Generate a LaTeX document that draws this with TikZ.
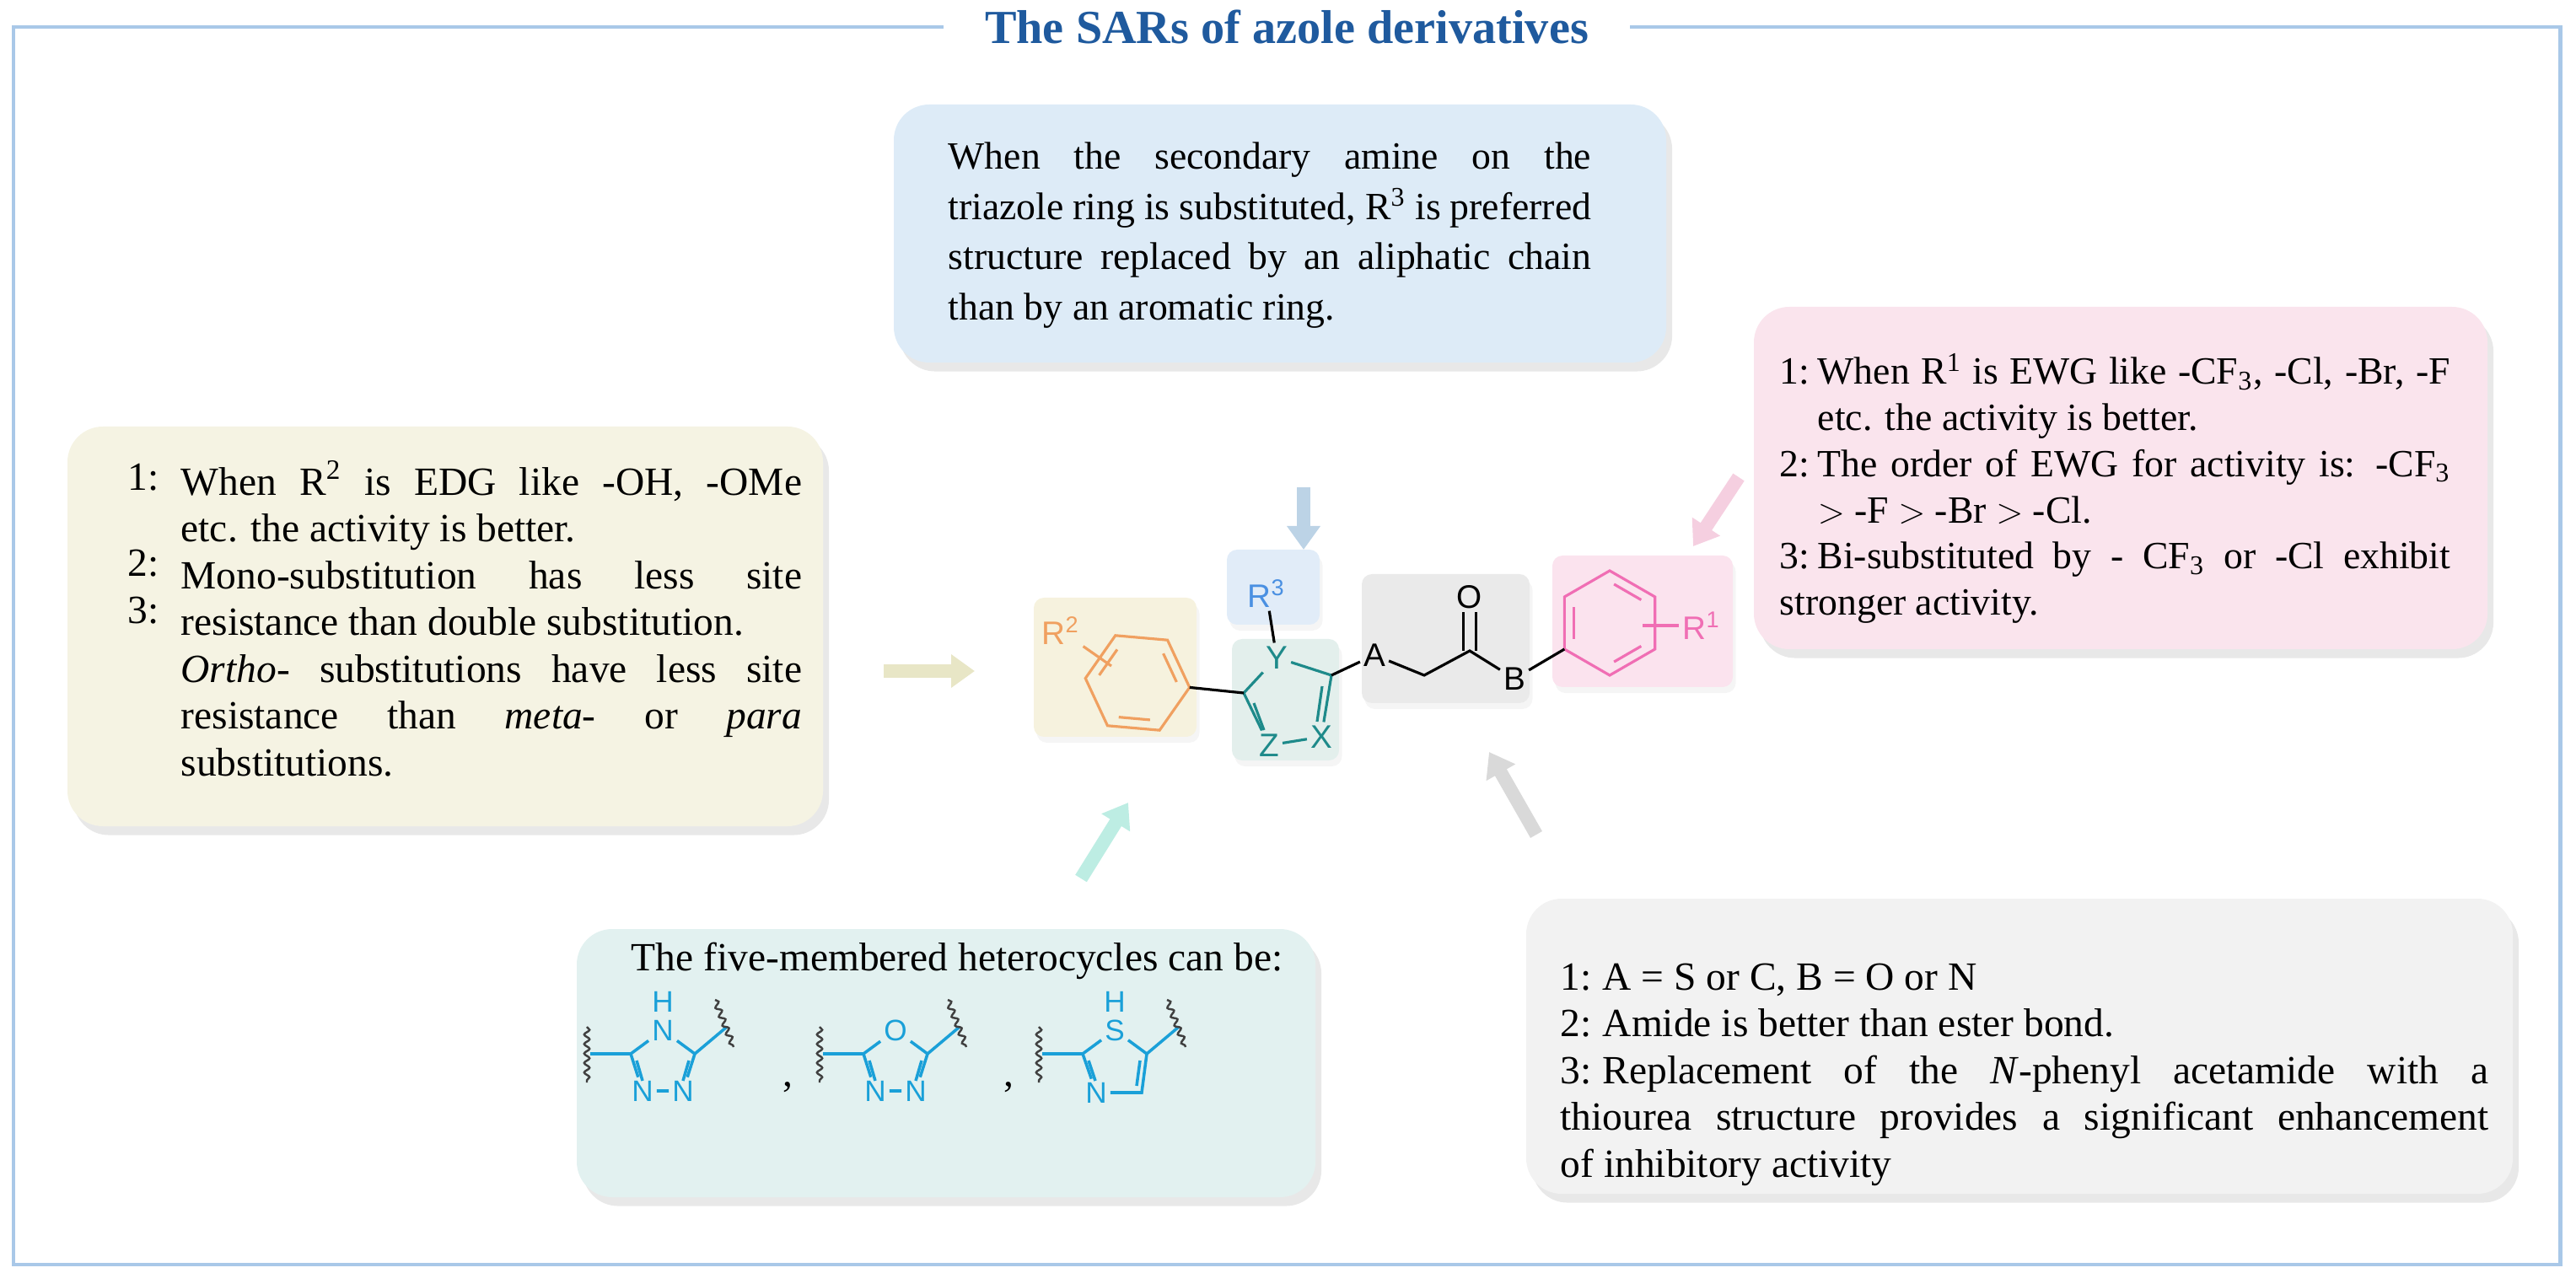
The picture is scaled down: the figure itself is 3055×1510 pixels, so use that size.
\documentclass[tikz,border=0pt]{standalone}
\usepackage{fontspec}
\setmainfont{Liberation Serif}
\newfontfamily\chemf{Liberation Sans}
\usetikzlibrary{arrows.meta,shadows,decorations.pathmorphing,calc}
\definecolor{frameB}{HTML}{A9C8E8}
\definecolor{titleB}{HTML}{1F5A9E}
\definecolor{bxBlue}{HTML}{DDEBF7}
\definecolor{bxYel}{HTML}{F5F3E3}
\definecolor{bxPink}{HTML}{FAE4ED}
\definecolor{bxTeal}{HTML}{E2F1F0}
\definecolor{bxGrey}{HTML}{F2F2F2}
\definecolor{arBlue}{HTML}{BCD3E6}
\definecolor{arYel}{HTML}{E8E6C6}
\definecolor{arPink}{HTML}{F5CFE0}
\definecolor{arTeal}{HTML}{BDEDE3}
\definecolor{arGrey}{HTML}{D9D9D9}
\definecolor{mOr}{HTML}{F0A060}
\definecolor{mBl}{HTML}{4A90E2}
\definecolor{mTe}{HTML}{1E8A8A}
\definecolor{mPk}{HTML}{F06EB4}
\definecolor{mHet}{HTML}{1AA0D8}
\definecolor{sbOr}{HTML}{F6F2DE}
\definecolor{sbBl}{HTML}{E1ECF8}
\definecolor{sbTe}{HTML}{E3EFEC}
\definecolor{sbGr}{HTML}{EAEAEA}
\definecolor{sbPk}{HTML}{FBE3EE}
\newlength\hng
\newcommand{\itm}[2]{\par\noindent\hangindent=\hng\hangafter=1\makebox[\hng][l]{#1:}#2}
\newcommand{\nohy}{\hyphenpenalty=10000\relax\exhyphenpenalty=10000\relax}
\tikzset{
  bigbox/.style={rounded corners=0.42cm, drop shadow={opacity=0.18,shadow xshift=2pt,shadow yshift=-3pt}},
  smallbox/.style={rounded corners=0.12cm, drop shadow={opacity=0.08,shadow xshift=1pt,shadow yshift=-2pt}},
  blockarr/.style={line width=0.16cm,-{Triangle[width=0.38cm,length=0.28cm]}},
  txt/.style={inner sep=0pt, align=justify, font=\fontsize{13.5}{15.8}\selectfont},
  atm/.style={inner sep=1pt, font=\chemf\fontsize{11}{11}\selectfont},
  hat/.style={inner sep=1pt, font=\chemf\fontsize{10}{10}\selectfont, text=mHet},
  bd/.style={line width=0.9pt},
  hb/.style={line width=1pt, mHet},
  wv/.style={line width=0.7pt, black!75, decorate, decoration={snake, amplitude=0.9pt, segment length=3.2pt}}
}
\begin{document}
\begin{tikzpicture}[x=0.01cm,y=-0.01cm]
\useasboundingbox (0,0) rectangle (3055,1510);
% frame and title
\draw[frameB, line width=1.4pt] (16,32) rectangle (3036,1500);
\node[fill=white, inner xsep=14pt, inner ysep=2pt, text=titleB, font=\bfseries\fontsize{16}{18}\selectfont] (title) at (1526,32) {The SARs of azole derivatives};

% big boxes
\fill[bxBlue, bigbox] (1060,124) rectangle (1976,430);
\fill[bxYel, bigbox] (80,506) rectangle (976,980);
\fill[bxPink, bigbox] (2080,364) rectangle (2950,770);
\fill[bxTeal, bigbox] (684,1102) rectangle (1560,1420);
\fill[bxGrey, bigbox] (1810,1066) rectangle (2980,1416);

% top text
\node[txt, anchor=north west, text width=7.62cm, font=\fontsize{13}{17}\selectfont] (ttext) at (1124,168) {\nohy When the secondary amine on the\linebreak triazole ring is substituted, R\textsuperscript{3} is preferred\linebreak structure replaced by an aliphatic chain\linebreak than by an aromatic ring.};

% left text
\node[txt, anchor=north west, text width=7.36cm] (ltext) at (214,546) {\nohy When R\textsuperscript{2} is EDG like -OH, -OMe\linebreak etc. the activity is better.\par
Mono-substitution has less site\linebreak resistance than double substitution.\par
\textit{Ortho}- substitutions have less site\linebreak resistance than \textit{meta}- or \textit{para}\linebreak substitutions.};
\node[inner sep=0pt, font=\fontsize{13.5}{15}\selectfont] (l1) at (170,566) {1:};
\node[inner sep=0pt, font=\fontsize{13.5}{15}\selectfont] (l2) at (170,668) {2:};
\node[inner sep=0pt, font=\fontsize{13.5}{15}\selectfont] (l3) at (170,724) {3:};

% right text
\node[txt, anchor=north west, text width=7.95cm, font=\fontsize{13}{15.6}\selectfont] (rtext) at (2110,400) {\nohy\setlength\hng{0.45cm}%
\itm{1}{When R\textsuperscript{1} is EWG like -CF\textsubscript{3}, -Cl, -Br, -F\linebreak etc. the activity is better.}
\itm{2}{The order of EWG for activity is: -CF\textsubscript{3}\linebreak ${>}$ -F ${>}$ -Br ${>}$ -Cl.}
\itm{3}{Bi-substituted by - CF\textsubscript{3} or -Cl exhibit\linebreak stronger activity.}};

% bottom-right text
\node[txt, anchor=north west, text width=11.0cm] (brtext) at (1850,1118) {\nohy\setlength\hng{0.5cm}%
\itm{1}{A = S or C, B = O or N}
\itm{2}{Amide is better than ester bond.}
\itm{3}{Replacement of the \textit{N}-phenyl acetamide with a\linebreak thiourea structure provides a significant enhancement\linebreak of inhibitory activity}};

% teal text
\node[inner sep=0pt, font=\fontsize{13.5}{15}\selectfont] (tetext) at (1135,1140) {The five-membered heterocycles can be:};

% arrows
\coordinate (aB1) at (1546,578); \coordinate (aB2) at (1546,652);
\draw[blockarr, arBlue] (aB1) -- (aB2);
\coordinate (aY1) at (1048,796); \coordinate (aY2) at (1156,796);
\draw[blockarr, arYel] (aY1) -- (aY2);
\coordinate (aP1) at (2062,566); \coordinate (aP2) at (2008,648);
\draw[blockarr, arPink] (aP1) -- (aP2);
\coordinate (aT1) at (1282,1042); \coordinate (aT2) at (1338,952);
\draw[blockarr, arTeal] (aT1) -- (aT2);
\coordinate (aG1) at (1822,990); \coordinate (aG2) at (1766,892);
\draw[blockarr, arGrey] (aG1) -- (aG2);

% small boxes of central molecule
\fill[sbOr, smallbox] (1226,709) rectangle (1419,874);
\fill[sbBl, smallbox] (1455,652) rectangle (1565,741);
\fill[sbTe, smallbox] (1461,758) rectangle (1588,902);
\fill[sbGr, smallbox] (1615,681) rectangle (1814,834);
\fill[sbPk, smallbox] (1841,659) rectangle (2055,815);

% orange benzene
\foreach \a [count=\i] in {5,65,125,185,245,305} \coordinate (o\i) at ($(1349,810)+(\a:62)$);
\foreach \a [count=\i] in {5,65,125,185,245,305} \coordinate (oi\i) at ($(1349,810)+(\a:49)$);
\draw[bd, mOr] (o1)--(o2)--(o3)--(o4)--(o5)--(o6)--cycle;
\draw[bd, mOr] ($(oi6)!0.12!(oi1)$)--($(oi6)!0.88!(oi1)$);
\draw[bd, mOr] ($(oi2)!0.12!(oi3)$)--($(oi2)!0.88!(oi3)$);
\draw[bd, mOr] ($(oi4)!0.12!(oi5)$)--($(oi4)!0.88!(oi5)$);
\node[atm, text=mOr] (R2) at (1258,748) {R\textsuperscript{2}};
\coordinate (r2e) at (1318,790);
\draw[bd, mOr] (R2) -- (r2e);

% five ring
\node[atm, text=mTe] (Y) at (1514,780) {Y};
\coordinate (C2) at (1579,801);
\node[atm, text=mTe] (X) at (1567,874) {X};
\node[atm, text=mTe] (Z) at (1505,884) {Z};
\coordinate (C4) at (1475,822);
\draw[bd, mTe] (C4) -- (Y) -- (C2) -- (X) -- (Z) -- (C4);
\coordinate (d1a) at (1568,814); \coordinate (d1b) at (1562,856);
\draw[bd, mTe] (d1a) -- (d1b);
\coordinate (d2a) at (1487,834); \coordinate (d2b) at (1499,866);
\draw[bd, mTe] (d2a) -- (d2b);
\draw[bd] (o1) -- (C4);
\node[atm, text=mBl] (R3) at (1502,704) {R\textsuperscript{3}};
\draw[bd] (R3) -- (Y);

% chain
\node[atm] (A) at (1630,777) {A};
\coordinate (CH2) at (1689,801);
\coordinate (CO) at (1743,772);
\node[atm] (O) at (1743,708) {O};
\node[atm] (B) at (1796,805) {B};
\draw[bd] (C2) -- (A) -- (CH2) -- (CO) -- (B);
\draw[bd] ([xshift=-2.2pt]CO) -- ([xshift=-2.2pt]O.south);
\draw[bd] ([xshift=2.2pt]CO) -- ([xshift=2.2pt]O.south);

% pink benzene
\foreach \a [count=\i] in {30,90,150,210,270,330} \coordinate (p\i) at ($(1909,739)+(\a:62)$);
\foreach \a [count=\i] in {30,90,150,210,270,330} \coordinate (pi\i) at ($(1909,739)+(\a:49)$);
\draw[bd, mPk] (p1)--(p2)--(p3)--(p4)--(p5)--(p6)--cycle;
\draw[bd, mPk] ($(pi3)!0.12!(pi4)$)--($(pi3)!0.88!(pi4)$);
\draw[bd, mPk] ($(pi5)!0.12!(pi6)$)--($(pi5)!0.88!(pi6)$);
\draw[bd, mPk] ($(pi1)!0.12!(pi2)$)--($(pi1)!0.88!(pi2)$);
\draw[bd] (B) -- (p3);
\node[atm, text=mPk] (R1) at (2018,742) {R\textsuperscript{1}};
\coordinate (r1s) at (1948,742);
\draw[bd, mPk] (r1s) -- (R1);

% heterocycle 1: triazole
\begin{scope}[shift={(786,1262)}]
\node[hat] (tT) at (0,-40) {N};
\node[hat] (tH) at (0,-74) {H};
\coordinate (tUR) at (38,-12);
\node[hat] (tLR) at (24,32) {N};
\node[hat] (tLL) at (-24,32) {N};
\coordinate (tUL) at (-38,-12);
\draw[hb] (tT) -- (tUR) -- (tLR) -- (tLL) -- (tUL) -- (tT);
\draw[hb] (31,-4) -- (24,20);
\draw[hb] (-31,-4) -- (-24,20);
\coordinate (tS1) at (-86,-12); \coordinate (tS2) at (76,-44);
\draw[hb] (tUL) -- (tS1);
\draw[hb] (tUR) -- (tS2);
\coordinate (tW1) at (-90,-44); \coordinate (tW2) at (-90,22);
\draw[wv] (tW1) -- (tW2);
\coordinate (tW3) at (62,-76); \coordinate (tW4) at (84,-20);
\draw[wv] (tW3) -- (tW4);
\end{scope}
\node[inner sep=0pt, font=\fontsize{13.5}{15}\selectfont] (cm1) at (934,1290) {,};

% heterocycle 2: oxadiazole
\begin{scope}[shift={(1062,1262)}]
\node[hat] (oT) at (0,-40) {O};
\coordinate (oUR) at (38,-12);
\node[hat] (oLR) at (24,32) {N};
\node[hat] (oLL) at (-24,32) {N};
\coordinate (oUL) at (-38,-12);
\draw[hb] (oT) -- (oUR) -- (oLR) -- (oLL) -- (oUL) -- (oT);
\draw[hb] (31,-4) -- (24,20);
\draw[hb] (-31,-4) -- (-24,20);
\coordinate (oS1) at (-86,-12); \coordinate (oS2) at (76,-44);
\draw[hb] (oUL) -- (oS1);
\draw[hb] (oUR) -- (oS2);
\coordinate (oW1) at (-90,-44); \coordinate (oW2) at (-90,22);
\draw[wv] (oW1) -- (oW2);
\coordinate (oW3) at (62,-76); \coordinate (oW4) at (84,-20);
\draw[wv] (oW3) -- (oW4);
\end{scope}
\node[inner sep=0pt, font=\fontsize{13.5}{15}\selectfont] (cm2) at (1196,1290) {,};

% heterocycle 3: thiazole
\begin{scope}[shift={(1322,1262)}]
\node[hat] (sT) at (0,-40) {S};
\node[hat] (sH) at (0,-74) {H};
\coordinate (sUR) at (38,-12);
\coordinate (sLR) at (32,34);
\node[hat] (sLL) at (-22,34) {N};
\coordinate (sUL) at (-38,-12);
\draw[hb] (sT) -- (sUR) -- (sLR) -- (sLL) -- (sUL) -- (sT);
\draw[hb] (30,-4) -- (26,26);
\draw[hb] (-31,-4) -- (-23,20);
\coordinate (sS1) at (-86,-12); \coordinate (sS2) at (76,-44);
\draw[hb] (sUL) -- (sS1);
\draw[hb] (sUR) -- (sS2);
\coordinate (sW1) at (-90,-44); \coordinate (sW2) at (-90,22);
\draw[wv] (sW1) -- (sW2);
\coordinate (sW3) at (62,-76); \coordinate (sW4) at (84,-20);
\draw[wv] (sW3) -- (sW4);
\end{scope}
\end{tikzpicture}
\end{document}
